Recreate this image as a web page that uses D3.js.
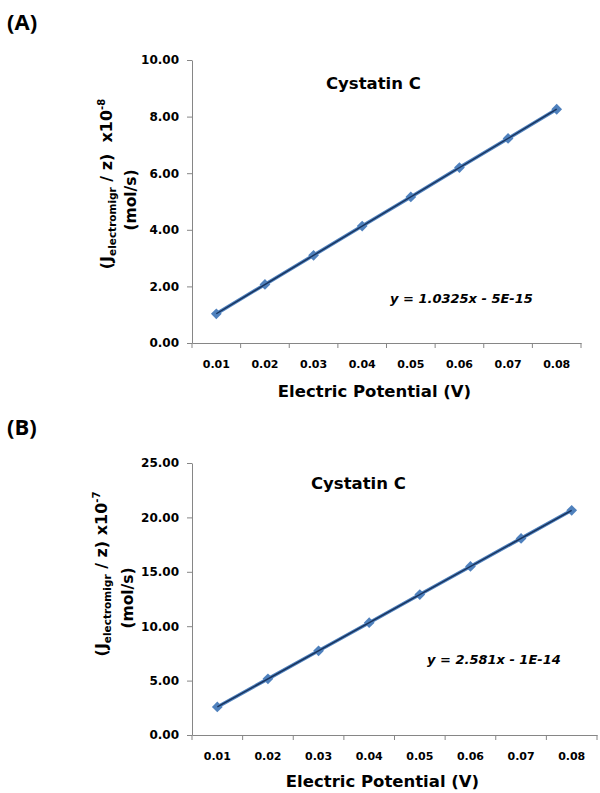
<!DOCTYPE html>
<html lang="en">
<head>
<meta charset="utf-8">
<title>Cystatin C</title>
<script src="https://cdn.jsdelivr.net/npm/d3@7"></script>
<style>
  body { margin: 0; background: #fff; }
  text { font-family: "DejaVu Sans", sans-serif; font-weight: bold; fill: #000; white-space: pre; }
  .panel { font-family: "Open Sans", sans-serif; font-size: 22px; }
  .tick text { font-size: 11px; }
  .yax .tick text { font-size: 12px; }
</style>
</head>
<body>
<script>
// data
var categories = ["0.01", "0.02", "0.03", "0.04", "0.05", "0.06", "0.07", "0.08"];
var seriesA = [1.03, 2.07, 3.10, 4.13, 5.16, 6.20, 7.23, 8.26];
var seriesB = [2.58, 5.16, 7.74, 10.32, 12.91, 15.49, 18.07, 20.65];
var yTicksA = [0, 2, 4, 6, 8, 10];
var yTicksB = [0, 5, 10, 15, 20, 25];

var w = 600, h = 793;
var svg = d3.select("body").append("svg")
    .attr("width", w)
    .attr("height", h);

var charts = [
  { panel: "(A)", py: 30, values: seriesA, ticks: yTicksA, ymax: 10,
    left: 192, right: 581, top: 60, bottom: 343,
    title: "Cystatin C", tx: 326, ty: 89,
    eq: "y = 1.0325x - 5E-15", ex: 390, ey: 303,
    lab1x: 112, lab1y: 184, lab2x: 136, lab2y: 200, exp: "-8", gap: "  ",
    xtitleY: 397 },
  { panel: "(B)", py: 435, values: seriesB, ticks: yTicksB, ymax: 25,
    left: 192, right: 597, top: 463, bottom: 735,
    title: "Cystatin C", tx: 311, ty: 489,
    eq: "y = 2.581x - 1E-14", ex: 427, ey: 664,
    lab1x: 107, lab1y: 574, lab2x: 133, lab2y: 598, exp: "-7", gap: " ",
    xtitleY: 787 }
];

charts.forEach(function(c) {
  var g = svg.append("g");

  g.append("text").attr("class", "panel")
    .attr("x", 7).attr("y", c.py)
    .text(c.panel);

  var x = d3.scaleBand()
    .domain(categories)
    .range([c.left, c.right])
    .padding(0);
  var y = d3.scaleLinear()
    .domain([0, c.ymax])
    .range([c.bottom, c.top]);

  // y axis
  var yAxis = g.append("g").attr("class", "yax")
    .attr("transform", "translate(" + c.left + ",0)")
    .call(d3.axisLeft(y).tickValues(c.ticks).tickFormat(d3.format(".2f"))
      .tickSize(5).tickSizeOuter(0).tickPadding(8));
  yAxis.select(".domain").attr("stroke", "#868686");
  yAxis.selectAll(".tick line").attr("stroke", "#868686");

  // x axis, ticks between categories
  var bw = x.bandwidth();
  var xAxis = g.append("g")
    .attr("transform", "translate(0," + c.bottom + ")")
    .call(d3.axisBottom(x).tickSize(5).tickSizeOuter(0).tickPadding(12));
  xAxis.select(".domain").attr("stroke", "#868686");
  xAxis.selectAll(".tick line")
    .attr("x1", -bw / 2).attr("x2", -bw / 2)
    .attr("stroke", "#868686");
  xAxis.append("line")
    .attr("x1", c.right).attr("x2", c.right)
    .attr("y1", 0).attr("y2", 5)
    .attr("stroke", "#868686");
  xAxis.selectAll(".tick text").attr("fill", "#000");
  yAxis.selectAll(".tick text").attr("fill", "#000");

  var pts = c.values.map(function(v, i) {
    return { x: x(categories[i]) + bw / 2, y: y(v), n: i + 1, v: v };
  });

  // series line
  g.append("path")
    .attr("d", d3.line().x(function(d) { return d.x; }).y(function(d) { return d.y; })(pts))
    .attr("fill", "none")
    .attr("stroke", "#4f81bd")
    .attr("stroke-width", 3.5);

  // markers
  g.selectAll(".pt").data(pts).enter()
    .append("path").attr("class", "pt")
    .attr("d", d3.symbol(d3.symbolSquare, 58)())
    .attr("transform", function(d) { return "translate(" + d.x + "," + d.y + ") rotate(45)"; })
    .attr("fill", "#4f81bd");

  // linear trendline (least squares on category index)
  var mx = d3.mean(pts, function(d) { return d.n; });
  var my = d3.mean(pts, function(d) { return d.v; });
  var slope = d3.sum(pts, function(d) { return (d.n - mx) * (d.v - my); }) /
              d3.sum(pts, function(d) { return (d.n - mx) * (d.n - mx); });
  var icpt = my - slope * mx;
  var first = pts[0], last = pts[pts.length - 1];
  g.append("line")
    .attr("x1", first.x).attr("y1", y(slope * first.n + icpt))
    .attr("x2", last.x).attr("y2", y(slope * last.n + icpt))
    .attr("stroke", "#17325c")
    .attr("stroke-width", 1.4);

  // title and equation
  g.append("text").attr("x", c.tx).attr("y", c.ty)
    .style("font-size", "16.5px").text(c.title);
  g.append("text").attr("x", c.ex).attr("y", c.ey)
    .style("font-size", "13px").style("font-style", "italic")
    .text(c.eq);

  // x title
  g.append("text")
    .attr("x", (c.left + c.right) / 2 - 12).attr("y", c.xtitleY)
    .attr("text-anchor", "middle")
    .style("font-size", "16.5px")
    .text("Electric Potential (V)");

  // y title, two lines
  var l1 = g.append("text")
    .attr("transform", "translate(" + c.lab1x + "," + c.lab1y + ") rotate(-90)")
    .attr("text-anchor", "middle")
    .style("font-size", "16px");
  l1.append("tspan").text("(J");
  l1.append("tspan").attr("dy", 4).style("font-size", "10.5px").text("electromigr");
  l1.append("tspan").attr("dy", -4).text(" / z)" + c.gap + "x10");
  l1.append("tspan").attr("dy", -7).style("font-size", "10px").text(c.exp);

  g.append("text")
    .attr("transform", "translate(" + c.lab2x + "," + c.lab2y + ") rotate(-90)")
    .attr("text-anchor", "middle")
    .style("font-size", "15.5px")
    .text("(mol/s)");
});
</script>
</body>
</html>
